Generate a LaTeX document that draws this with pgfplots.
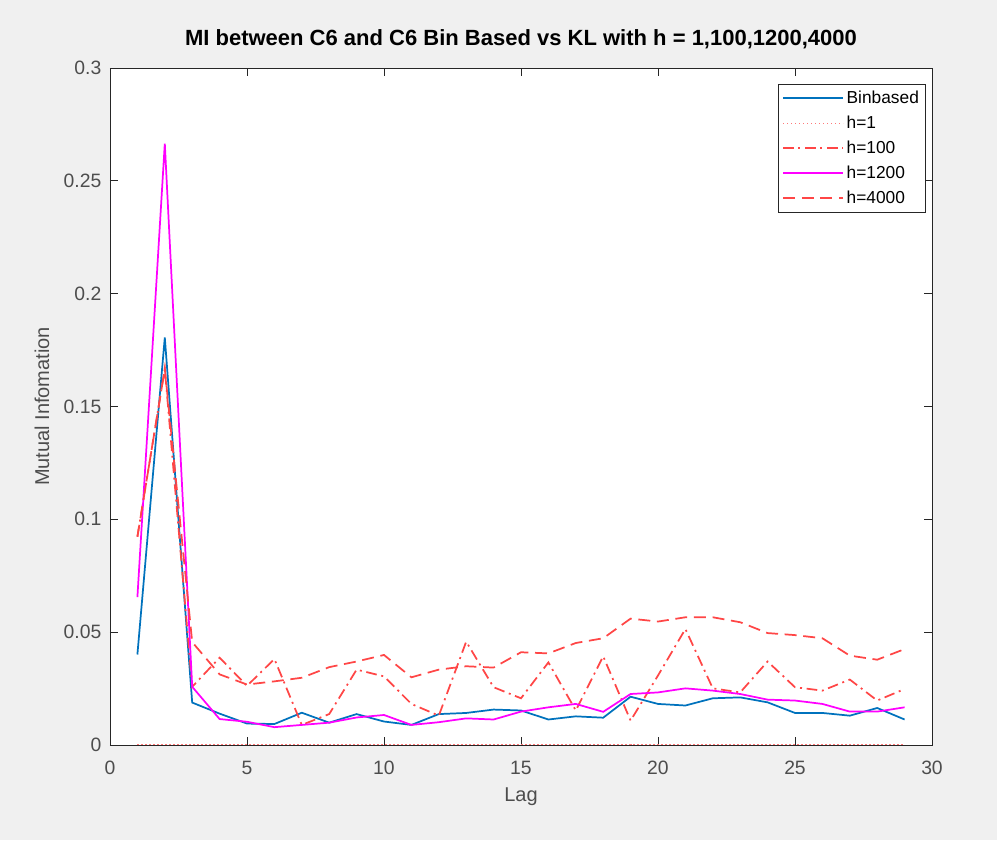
\documentclass[border=0pt]{standalone}
\usepackage{fontspec}
\setmainfont{Liberation Sans}
\usepackage{pgfplots}
\pgfplotsset{compat=1.18}
\definecolor{bg}{RGB}{240,240,240}
\definecolor{axc}{RGB}{38,38,38}
\definecolor{tkc}{RGB}{77,77,77}
\definecolor{mblue}{RGB}{0,114,189}
\definecolor{mred}{RGB}{255,70,70}
\definecolor{mredl}{RGB}{255,120,120}
\definecolor{mmag}{RGB}{255,0,255}
\begin{document}
\begin{tikzpicture}[x=0.75pt,y=0.75pt]
\fill[bg] (0,0) rectangle (997,840);
\begin{axis}[
  at={(82.5pt,71.25pt)}, anchor=south west,
  scale only axis, width=616.5pt, height=507.75pt,
  xmin=0, xmax=30, ymin=0, ymax=0.3,
  xtick={0,5,...,30}, ytick={0,0.05,0.1,0.15,0.2,0.25,0.3},
  yticklabels={0,0.05,0.1,0.15,0.2,0.25,0.3},
  tick align=inside, tick pos=both,
  major tick length=6pt,
  axis background/.style={fill=white},
  axis line style={axc, line width=0.6pt},
  every tick/.style={axc, line width=0.6pt},
  tick label style={font=\fontsize{14.5}{16}\selectfont, text=tkc},
  xticklabel style={yshift=-8.5pt},
  yticklabel style={xshift=-3pt},
  /pgf/number format/assume math mode=true,
  title={\textbf{MI between C6 and C6 Bin Based vs KL with h = 1,100,1200,4000}},
  title style={font=\fontsize{16.5}{18}\selectfont, at={(axis description cs:0.5,1.031)}, anchor=center},
  xlabel={Lag}, ylabel={Mutual Infomation},
  label style={font=\fontsize{15}{17}\selectfont, text=tkc},
  xlabel style={at={(axis description cs:0.5,-0.0768)}, anchor=center},
  ylabel style={at={(axis description cs:-0.0827,0.5)}, anchor=center},
  legend style={at={(1,1)}, anchor=north east, xshift=-4.5pt, yshift=-12pt,
    font=\fontsize{13}{15}\selectfont, draw=black!85, line width=0.6pt, fill=white,
    row sep=3.8pt, inner sep=3pt},
  legend cell align=left,
  legend image code/.code={\draw[#1] (0pt,0pt) -- (45pt,0pt);},
  clip=true,
]
\addplot[color=mblue, line width=1.3pt] coordinates {
(1,0.0401)(2,0.1806)(3,0.0188)(4,0.0139)(5,0.0095)(6,0.0093)(7,0.0143)(8,0.0099)
(9,0.0137)(10,0.0104)(11,0.0089)(12,0.0137)(13,0.0142)(14,0.0157)(15,0.0153)
(16,0.0113)(17,0.0127)(18,0.0121)(19,0.0214)(20,0.0182)(21,0.0175)(22,0.0207)
(23,0.0211)(24,0.0189)(25,0.0142)(26,0.0142)(27,0.0130)(28,0.0164)(29,0.0113)};
\addlegendentry{Binbased\hspace{10pt}}
\addplot[color=mredl, line width=1pt, dash pattern=on 1pt off 2pt] coordinates {
(1,0.0002)(2,0.0002)(3,0.0002)(4,0.0002)(5,0.0002)(6,0.0002)(7,0.0002)(8,0.0002)
(9,0.0002)(10,0.0002)(11,0.0002)(12,0.0002)(13,0.0002)(14,0.0002)(15,0.0002)
(16,0.0002)(17,0.0002)(18,0.0002)(19,0.0002)(20,0.0002)(21,0.0002)(22,0.0002)
(23,0.0002)(24,0.0002)(25,0.0002)(26,0.0002)(27,0.0002)(28,0.0002)(29,0.0002)};
\addlegendentry{h=1}
\addplot[color=mred, line width=1.3pt, dash pattern=on 8pt off 3.5pt on 1.5pt off 3.5pt] coordinates {
(1,0.0923)(2,0.1667)(3,0.0258)(4,0.0387)(5,0.0262)(6,0.0381)(7,0.0089)(8,0.0137)
(9,0.0334)(10,0.0304)(11,0.0182)(12,0.0130)(13,0.0458)(14,0.0256)(15,0.0207)
(16,0.0366)(17,0.0153)(18,0.0393)(19,0.0108)(20,0.0308)(21,0.0514)(22,0.0251)
(23,0.0233)(24,0.0370)(25,0.0256)(26,0.0241)(27,0.0290)(28,0.0197)(29,0.0248)};
\addlegendentry{h=100}
\addplot[color=mmag, line width=1.3pt] coordinates {
(1,0.0655)(2,0.2665)(3,0.0258)(4,0.0115)(5,0.0103)(6,0.0079)(7,0.0089)(8,0.0099)
(9,0.0122)(10,0.0133)(11,0.0089)(12,0.0101)(13,0.0118)(14,0.0113)(15,0.0148)
(16,0.0167)(17,0.0182)(18,0.0147)(19,0.0226)(20,0.0233)(21,0.0251)(22,0.0241)
(23,0.0226)(24,0.0201)(25,0.0197)(26,0.0182)(27,0.0148)(28,0.0148)(29,0.0167)};
\addlegendentry{h=1200}
\addplot[color=mred, line width=1.3pt, dash pattern=on 9pt off 5pt] coordinates {
(1,0.0923)(2,0.1667)(3,0.0456)(4,0.0313)(5,0.0268)(6,0.0282)(7,0.0298)(8,0.0345)
(9,0.0370)(10,0.0399)(11,0.0300)(12,0.0334)(13,0.0349)(14,0.0343)(15,0.0411)
(16,0.0406)(17,0.0452)(18,0.0473)(19,0.0560)(20,0.0547)(21,0.0566)(22,0.0566)
(23,0.0544)(24,0.0496)(25,0.0487)(26,0.0473)(27,0.0396)(28,0.0378)(29,0.0425)};
\addlegendentry{h=4000}
\end{axis}
\end{tikzpicture}
\end{document}
